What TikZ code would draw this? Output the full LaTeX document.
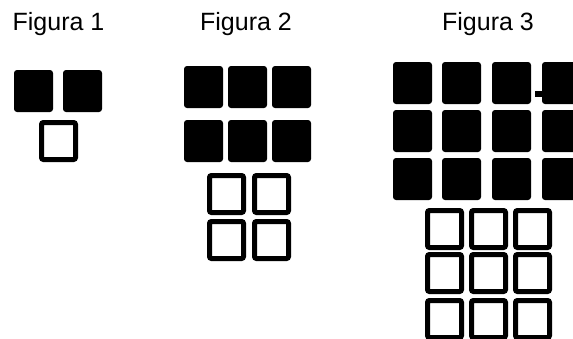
\documentclass[tikz,border=0pt]{standalone}
\usepackage{fontspec}
\setmainfont{Liberation Sans}
\begin{document}
\begin{tikzpicture}[
    x=1pt, y=-1pt,
    caption/.style={anchor=base, font=\fontsize{25}{30}\selectfont, inner sep=0pt},
    full/.style={fill=black, rounded corners=3pt},
    hollow/.style={draw=black, line width=5pt, rounded corners=2pt}
]
    \useasboundingbox (0,0) rectangle (573,338);
    \clip (0,0) rectangle (573,338);

    % captions
    \node[caption] (fig1) at (58.5,30) {Figura 1};
    \node[caption] (fig2) at (246,30) {Figura 2};
    \node[caption] (fig3) at (488,30) {Figura 3};

    % Figura 1
    \foreach \x in {14,63}
        \fill[full] (\x,70) rectangle ++(39,42);
    \draw[hollow] (41.5,122.5) rectangle ++(34,37);

    % Figura 2
    \foreach \y in {66,120}
        \foreach \x in {184,228,272}
            \fill[full] (\x,\y) rectangle ++(39,42);
    \foreach \y in {173,219}
        \foreach \x in {207,252}
            \draw[hollow] (\x+2.5,\y+2.5) rectangle ++(34,37);

    % Figura 3
    \foreach \y in {62,110,158}
        \foreach \x in {393,442,492,542}
            \fill[full] (\x,\y) rectangle ++(39,42);
    \fill (535,91) rectangle (543,97);
    \foreach \y in {208,252,298}
        \foreach \x in {425,469,513}
            \draw[hollow] (\x+2.5,\y+2.5) rectangle ++(34,37);
\end{tikzpicture}
\end{document}
